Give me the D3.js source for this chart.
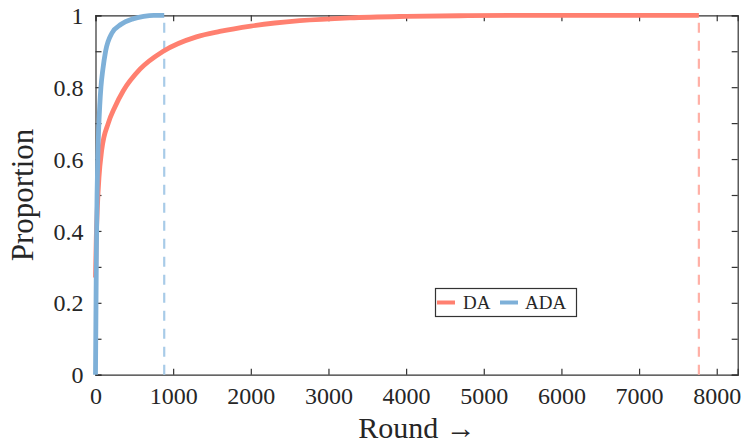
<!DOCTYPE html>
<html>
<head>
<meta charset="utf-8">
<script src="https://cdn.jsdelivr.net/npm/d3@7"></script>
<style>
html,body{margin:0;padding:0;background:#fff;}
svg{display:block;}
text{font-family:"Liberation Serif",serif;fill:#262626;}
</style>
</head>
<body>
<svg id="chart" width="744" height="443"></svg>
<script>
// ---- data ----
const seriesNames = ["DA", "ADA"];
const daRounds = [0, 10, 25, 45, 80, 165, 250, 358, 573, 873, 1300, 1600, 2000, 2630, 3275, 4000, 4800, 5800, 7770];
const daValues = [0.27, 0.38, 0.47, 0.55, 0.625, 0.70, 0.745, 0.79, 0.85, 0.9, 0.94, 0.955, 0.97, 0.985, 0.993, 0.997, 0.999, 1.0, 1.0];
const adaRounds = [0, 5, 12, 20, 30, 40, 55, 70, 95, 130, 210, 330, 480, 620, 750, 885];
const adaValues = [0, 0.15, 0.35, 0.5, 0.61, 0.68, 0.75, 0.8, 0.85, 0.9, 0.95, 0.975, 0.99, 0.997, 1.0, 1.0];
const finalRounds = [7770, 885]; // dashed markers: DA, ADA
const xTicks = [0, 1000, 2000, 3000, 4000, 5000, 6000, 7000, 8000];
const yTicks = [0, 0.1, 0.2, 0.3, 0.4, 0.5, 0.6, 0.7, 0.8, 0.9, 1];
const yTickLabels = ["0", "", "0.2", "", "0.4", "", "0.6", "", "0.8", "", "1"];
const xMax = 8270;

// ---- layout ----
const W = 744, H = 443;
const m = {left: 95.5, right: 6.3, top: 15.3, bottom: 68.3};
const colors = ["#ff8070", "#7eb0d8"];
const dashColors = ["#ffb0a6", "#a8cbe8"];
const axisColor = "#333";

const svg = d3.select("#chart");
const x = d3.scaleLinear().domain([0, xMax]).range([m.left, W - m.right]);
const y = d3.scaleLinear().domain([0, 1]).range([H - m.bottom, m.top]);

const tickLen = 6;
const gx = svg.append("g").attr("transform", `translate(0,${y(0)})`)
  .call(d3.axisBottom(x).tickValues(xTicks).tickSize(-tickLen).tickPadding(12).tickFormat(d3.format("d")));
const gxt = svg.append("g").attr("transform", `translate(0,${y(1)})`)
  .call(d3.axisTop(x).tickValues(xTicks).tickSize(-tickLen).tickFormat(""));
const gy = svg.append("g").attr("transform", `translate(${x(0)},0)`)
  .call(d3.axisLeft(y).tickValues(yTicks).tickSize(-tickLen).tickPadding(12).tickFormat((d, i) => yTickLabels[i]));
const gyr = svg.append("g").attr("transform", `translate(${x(xMax)},0)`)
  .call(d3.axisRight(y).tickValues(yTicks).tickSize(-tickLen).tickFormat(""));

[gx, gxt, gy, gyr].forEach(g => {
  g.select(".domain").attr("stroke", axisColor).attr("stroke-width", 1.2);
  g.selectAll(".tick line").attr("stroke", axisColor).attr("stroke-width", 1.2);
  g.selectAll(".tick text").attr("fill", "#262626").style("font-family", '"Liberation Serif",serif').style("font-size", "24px");
});
gx.selectAll(".tick text").attr("dy", "0.71em");
gy.selectAll(".tick text").attr("dy", "0.34em");
gx.selectAll(".tick").filter(d => d === 0).select("line").remove();

// dashed final-round markers
finalRounds.forEach((r, i) => {
  svg.append("line")
    .attr("x1", x(r)).attr("x2", x(r))
    .attr("y1", y(0)).attr("y2", y(1))
    .attr("stroke", dashColors[i]).attr("stroke-width", 2.2)
    .attr("stroke-dasharray", "10,8");
});

// curves
const line = d3.line().x(d => x(d[0])).y(d => y(d[1])).curve(d3.curveMonotoneX);
const daData = daRounds.map((r, i) => [r, daValues[i]]);
const adaData = adaRounds.map((r, i) => [r, adaValues[i]]);
svg.append("path").datum(daData).attr("d", line)
  .attr("fill", "none").attr("stroke", colors[0]).attr("stroke-width", 4.8);
svg.append("path").datum(adaData).attr("d", line)
  .attr("fill", "none").attr("stroke", colors[1]).attr("stroke-width", 4.8);

// axis labels
svg.append("text")
  .attr("x", 417).attr("y", 438)
  .attr("text-anchor", "middle")
  .style("font-size", "30px")
  .text("Round \u2192");
svg.append("text")
  .attr("transform", `translate(33,${(y(0) + y(1)) / 2}) rotate(-90)`)
  .attr("text-anchor", "middle")
  .style("font-size", "31px")
  .text("Proportion");

// legend
const lg = svg.append("g");
lg.append("rect").attr("x", 435.5).attr("y", 288.5).attr("width", 141).attr("height", 28)
  .attr("fill", "#fff").attr("stroke", axisColor).attr("stroke-width", 1.2);
const legendItems = [{x0: 437, tx: 463}, {x0: 500, tx: 525}];
legendItems.forEach((it, i) => {
  lg.append("line").attr("x1", it.x0).attr("x2", it.x0 + 18).attr("y1", 302.5).attr("y2", 302.5)
    .attr("stroke", colors[i]).attr("stroke-width", 4);
  lg.append("text").attr("x", it.tx).attr("y", 309).style("font-size", "19px").text(seriesNames[i]);
});
</script>
</body>
</html>
